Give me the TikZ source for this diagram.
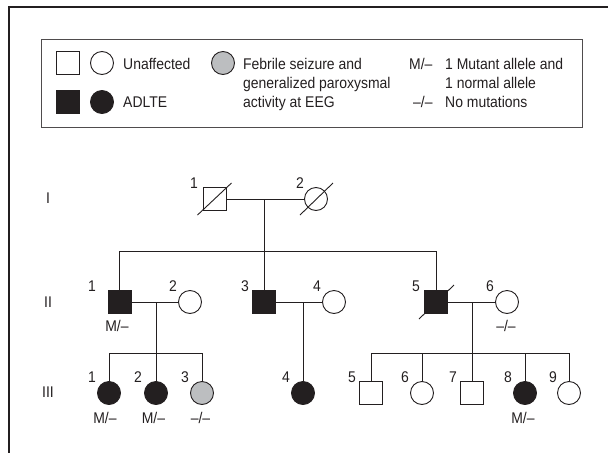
\documentclass[tikz,border=0pt]{standalone}
\usepackage{fontspec}
\setmainfont[FakeStretch=0.9]{Liberation Sans}
\newcommand\fsz{\fontsize{15.5}{17}\selectfont}
\definecolor{ink}{HTML}{231F20}
\definecolor{greyfill}{HTML}{BCBEC0}
\begin{document}
\begin{tikzpicture}[x=1pt,y=-1pt,
  sq/.style={rectangle,draw=ink,line width=0.9pt,minimum size=23pt,inner sep=0pt,fill=white},
  ci/.style={circle,draw=ink,line width=0.9pt,minimum size=23pt,inner sep=0pt,fill=white},
  aff/.style={fill=ink},
  fsz/.style={fill=greyfill},
  lbl/.style={font=\fsz,text=ink,inner sep=0pt,text height=11pt,text depth=0pt},
  lw/.style={lbl,anchor=west},
  ln/.style={draw=ink,line width=0.9pt},
  frame/.style={draw=ink,line width=1.3pt},
  box/.style={draw=ink!80,line width=1pt}]
\useasboundingbox (0,0) rectangle (608,453);
% outer frame (top and left only)
\coordinate (fa) at (608,7);
\coordinate (fb) at (9,7);
\coordinate (fc) at (9,453);
\draw[frame] (fa) -- (fb) -- (fc);
% legend box
\node[box,rectangle,minimum width=541pt,minimum height=88pt,inner sep=0pt,anchor=north west] (legend) at (41,39) {};
\node[sq] (l1) at (68,63) {};
\node[ci] (l2) at (102,63) {};
\node[lw] (lt1) at (123,64) {Unaffected};
\node[sq,aff] (l3) at (68,102) {};
\node[ci,aff] (l4) at (102,102) {};
\node[lw] (lt2) at (123,102) {ADLTE};
\node[ci,fsz] (l5) at (223,63) {};
\node[lw] (lt3) at (243,64) {Febrile seizure and};
\node[lw] (lt4) at (243,83) {generalized paroxysmal};
\node[lw] (lt5) at (243,102) {activity at EEG};
\node[lw] (lt6) at (409,64) {M/–};
\node[lw] (lt7) at (445,64) {1 Mutant allele and};
\node[lw] (lt8) at (445,83) {1 normal allele};
\node[lw] (lt9) at (413,102) {–/–};
\node[lw] (lt10) at (445,102) {No mutations};
% generation labels
\node[lbl] (gI) at (48,198) {I};
\node[lbl] (gII) at (48,302) {II};
\node[lbl] (gIII) at (48,392) {III};
% generation I
\node[sq] (I1) at (214.5,199) {};
\node[ci] (I2) at (316,199) {};
\coordinate (m1) at (264,199);
\coordinate (s1) at (264,251);
% generation II
\node[sq,aff] (II1) at (119.5,302) {};
\node[ci] (II2) at (190,302) {};
\node[sq,aff] (II3) at (264,302) {};
\node[ci] (II4) at (334,302) {};
\node[sq,aff] (II5) at (436,302) {};
\node[ci] (II6) at (507,302) {};
\coordinate (m2) at (156,302);
\coordinate (s2) at (156,353);
\coordinate (m3) at (303,302);
\coordinate (m4) at (472,302);
\coordinate (s4) at (472,353);
% generation III
\node[ci,aff] (III1) at (109,393) {};
\node[ci,aff] (III2) at (156,393) {};
\node[ci,fsz] (III3) at (202,393) {};
\node[ci,aff] (III4) at (303,393) {};
\node[sq] (III5) at (371,393) {};
\node[ci] (III6) at (422,393) {};
\node[sq] (III7) at (472,393) {};
\node[ci,aff] (III8) at (525,393) {};
\node[ci] (III9) at (569,393) {};
% connectors
\draw[ln] (I1) -- (I2);
\draw[ln] (m1) -- (II3.north);
\draw[ln] (II1.north) -- (II1.north |- s1) -- (II5.north |- s1) -- (II5.north);
\draw[ln] (II1) -- (II2);
\draw[ln] (II3) -- (II4);
\draw[ln] (II5) -- (II6);
\draw[ln] (m2) -- (III2.north);
\draw[ln] (III1.north) -- (III1.north |- s2) -- (III3.north |- s2) -- (III3.north);
\draw[ln] (m3) -- (III4.north);
\draw[ln] (m4) -- (III7.north);
\draw[ln] (III5.north) -- (III5.north |- s4) -- (III9.north |- s4) -- (III9.north);
\draw[ln] (III6.north |- s4) -- (III6.north);
\draw[ln] (III8.north |- s4) -- (III8.north);
% deceased slashes
\draw[ln] (I1.center) ++(-17,16) -- ++(34,-32);
\draw[ln] (I2.center) ++(-16,16) -- ++(33,-32);
\draw[ln] (II5.center) ++(-17,17) -- ++(35,-34);
% individual numbers
\node[lbl] (nI1) at (194,183) {1};
\node[lbl] (nI2) at (300,183) {2};
\node[lbl] (nII1) at (92,286) {1};
\node[lbl] (nII2) at (173,286) {2};
\node[lbl] (nII3) at (245,286) {3};
\node[lbl] (nII4) at (317,286) {4};
\node[lbl] (nII5) at (416,286) {5};
\node[lbl] (nII6) at (490,286) {6};
\node[lbl] (nIII1) at (92,377) {1};
\node[lbl] (nIII2) at (138,377) {2};
\node[lbl] (nIII3) at (185,377) {3};
\node[lbl] (nIII4) at (286,377) {4};
\node[lbl] (nIII5) at (352,377) {5};
\node[lbl] (nIII6) at (405,377) {6};
\node[lbl] (nIII7) at (453,377) {7};
\node[lbl] (nIII8) at (508,377) {8};
\node[lbl] (nIII9) at (553,377) {9};
% genotype labels
\node[lbl] (gtII1) at (117,326) {M/–};
\node[lbl] (gtII6) at (506,326) {–/–};
\node[lbl] (gtIII1) at (105,418) {M/–};
\node[lbl] (gtIII2) at (153.5,418) {M/–};
\node[lbl] (gtIII3) at (200.5,418) {–/–};
\node[lbl] (gtIII8) at (523,418) {M/–};
\end{tikzpicture}
\end{document}
